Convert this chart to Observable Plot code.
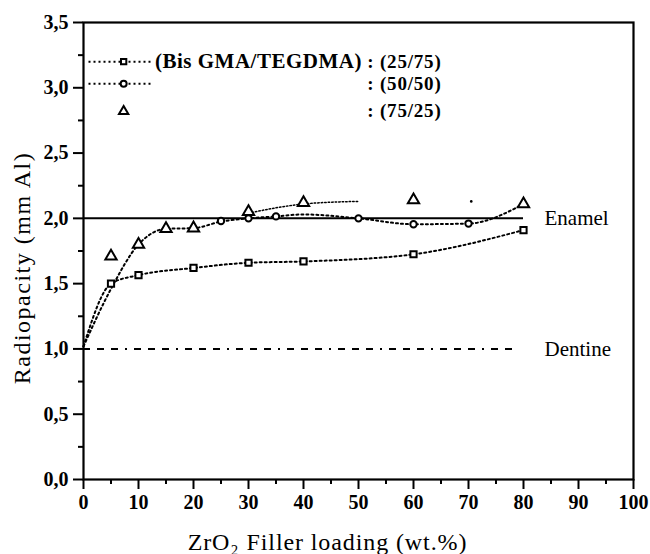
<!DOCTYPE html>
<html>
<head>
<meta charset="utf-8">
<script src="https://cdn.jsdelivr.net/npm/d3@7"></script>
<script src="https://cdn.jsdelivr.net/npm/@observablehq/plot@0.6"></script>
<style>
  html, body { margin: 0; padding: 0; background: #fff; }
  #chart svg { display: block; }
</style>
</head>
<body>
<div id="chart"></div>
<script>
// ---- data ----
// fitted dotted curves
const curveA_x = [0, 5, 10, 20, 30, 40, 60, 80];
const curveA_y = [1.02, 1.50, 1.565, 1.62, 1.66, 1.67, 1.725, 1.91];
const curveB_x = [0, 5, 10, 15, 20, 25, 30, 35, 40, 50, 60, 70, 80];
const curveB_y = [1.02, 1.46, 1.80, 1.92, 1.925, 1.975, 2.00, 2.015, 2.03, 2.00, 1.955, 1.96, 2.11];
const curveC_x = [30, 40, 50];
const curveC_y = [2.04, 2.11, 2.13];
// markers
const squares_x = [5, 10, 20, 30, 40, 60, 80];
const squares_y = [1.50, 1.565, 1.62, 1.66, 1.67, 1.725, 1.91];
const circles_x = [25, 30, 35, 50, 60, 70];
const circles_y = [1.98, 2.00, 2.015, 2.00, 1.955, 1.96];
const triangles_x = [5, 10, 15, 20, 30, 40, 60, 80];
const triangles_y = [1.71, 1.80, 1.92, 1.925, 2.05, 2.12, 2.14, 2.11];
const speck_x = [70.5];
const speck_y = [2.13];
// reference levels
const refNames = ["Enamel", "Dentine"];
const refValues = [2.0, 1.0];
const refEnd = 80;
// legend
const legendTitle = "(Bis GMA/TEGDMA)";
const legendRatios = [": (25/75)", ": (50/50)", ": (75/25)"];
const legendSymbols = ["square", "circle", "triangle"];
const xTicks = [0, 10, 20, 30, 40, 50, 60, 70, 80, 90, 100];
const yTicks = [0, 0.5, 1.0, 1.5, 2.0, 2.5, 3.0, 3.5];
const xLabel = "ZrO\u2082 Filler loading (wt.%)";
const yLabel = "Radiopacity (mm Al)";

const pts = (xs, ys) => xs.map((x, i) => ({x, y: ys[i]}));
const curveA = pts(curveA_x, curveA_y);
const curveB = pts(curveB_x, curveB_y);
const curveC = pts(curveC_x, curveC_y);
const squares = pts(squares_x, squares_y);
const circles = pts(circles_x, circles_y);
const triangles = pts(triangles_x, triangles_y);
const specks = pts(speck_x, speck_y);
const refs = refNames.map((n, i) => ({name: n, y: refValues[i]}));

// legend rows (placed in data units, top-left of the frame)
const legY = [3.2, 3.03, 2.82];
const legendRows = legendRatios.map((t, i) => ({label: t, symbol: legendSymbols[i], y: legY[i]}));

const font = "'Liberation Serif', 'Times New Roman', serif";
const fmt = d => d.toFixed(1).replace(".", ",");

const chart = Plot.plot({
  width: 650,
  height: 554,
  marginLeft: 83,
  marginRight: 17,
  marginTop: 22,
  marginBottom: 75,
  style: {fontFamily: font, background: "#fff", color: "#000"},
  x: {domain: [0, 100]},
  y: {domain: [0, 3.5]},
  marks: [
    // axes
    Plot.axisX({ticks: xTicks, tickSize: 10, tickPadding: 5, tickFormat: d => String(d),
      fontSize: 20, fontWeight: "bold", label: null, strokeWidth: 2}),
    Plot.axisX({ticks: d3.range(5, 100, 10), tickSize: 5, tickFormat: () => "", label: null, strokeWidth: 2}),
    Plot.axisY({ticks: yTicks, tickSize: 10, tickPadding: 5, tickFormat: fmt,
      fontSize: 20, fontWeight: "bold", label: null, strokeWidth: 2}),
    Plot.axisY({ticks: d3.range(0.25, 3.5, 0.5), tickSize: 5, tickFormat: () => "", label: null, strokeWidth: 2}),
    Plot.frame({stroke: "#000", strokeWidth: 2.2}),
    // axis titles
    Plot.text([yLabel], {frameAnchor: "left", textAnchor: "middle", lineAnchor: "middle",
      dx: -61, dy: 17, rotate: -90, fontSize: 24, fill: "#000"}),
    Plot.text([xLabel], {frameAnchor: "bottom", textAnchor: "middle", lineAnchor: "middle",
      dx: -31, dy: 63, fontSize: 24, fill: "#000"}),
    // reference lines
    Plot.ruleY(refs.filter(d => d.name === "Enamel"), {y: "y", x1: 0, x2: refEnd, stroke: "#000", strokeWidth: 2}),
    Plot.ruleY(refs.filter(d => d.name === "Dentine"), {y: "y", x1: 0, x2: refEnd - 2, stroke: "#000", strokeWidth: 2,
      strokeDasharray: "7,7,7,7,7,7,2,7"}),
    Plot.text(refs, {x: refEnd, y: "y", text: "name", textAnchor: "start", dx: 21,
      fontSize: 21, fontWeight: d => d.name === "Enamel" ? "bold" : "normal", fill: "#000"}),
    // fitted dotted curves
    Plot.line(curveA, {x: "x", y: "y", curve: "monotone-x", stroke: "#000", strokeWidth: 2, strokeDasharray: "2,3"}),
    Plot.line(curveB, {x: "x", y: "y", curve: "monotone-x", stroke: "#000", strokeWidth: 2, strokeDasharray: "2,3"}),
    Plot.line(curveC, {x: "x", y: "y", curve: "monotone-x", stroke: "#000", strokeWidth: 1.5, strokeDasharray: "1.5,2"}),
    // markers
    Plot.dot(squares, {x: "x", y: "y", symbol: "square", r: 3.5, fill: "#fff", stroke: "#000", strokeWidth: 2}),
    Plot.dot(circles, {x: "x", y: "y", symbol: "circle", r: 3.2, fill: "#fff", stroke: "#000", strokeWidth: 2}),
    Plot.dot(triangles, {x: "x", y: "y", symbol: "triangle", r: 4.2, fill: "#fff", stroke: "#000", strokeWidth: 2}),
    Plot.dot(specks, {x: "x", y: "y", r: 1.3, fill: "#000"}),
    // legend
    Plot.ruleY(legendRows.filter(d => d.symbol !== "triangle"), {y: "y", x1: 1, x2: 12.3,
      stroke: "#000", strokeWidth: 2, strokeDasharray: "2,3"}),
    Plot.dot(legendRows, {x: 7.3, y: "y", symbol: "symbol",
      r: d => d.symbol === "triangle" ? 4.4 : 3.3, fill: "#fff", stroke: "#000", strokeWidth: 2}),
    Plot.text([legendTitle], {x: 13.0, y: legY[0], textAnchor: "start",
      fontSize: 21, fontWeight: "bold", fill: "#000"}),
    Plot.text(legendRows, {x: 51.6, y: "y", text: "label", textAnchor: "start",
      fontSize: 19, fontWeight: "bold", fill: "#000"})
  ]
});
document.getElementById("chart").appendChild(chart);
// widen the letter spacing of the long titles to match the reference
d3.select(chart).selectAll("text")
  .filter(function() { return this.textContent === yLabel; })
  .attr("letter-spacing", "1.5");
d3.select(chart).selectAll("text")
  .filter(function() { return this.textContent === xLabel; })
  .attr("letter-spacing", "0.9");
d3.select(chart).selectAll("text")
  .filter(function() { return this.textContent === legendTitle; })
  .attr("letter-spacing", "0.5");
d3.select(chart).selectAll("text")
  .filter(function() { return legendRatios.includes(this.textContent); })
  .attr("letter-spacing", "0.8");
</script>
</body>
</html>
